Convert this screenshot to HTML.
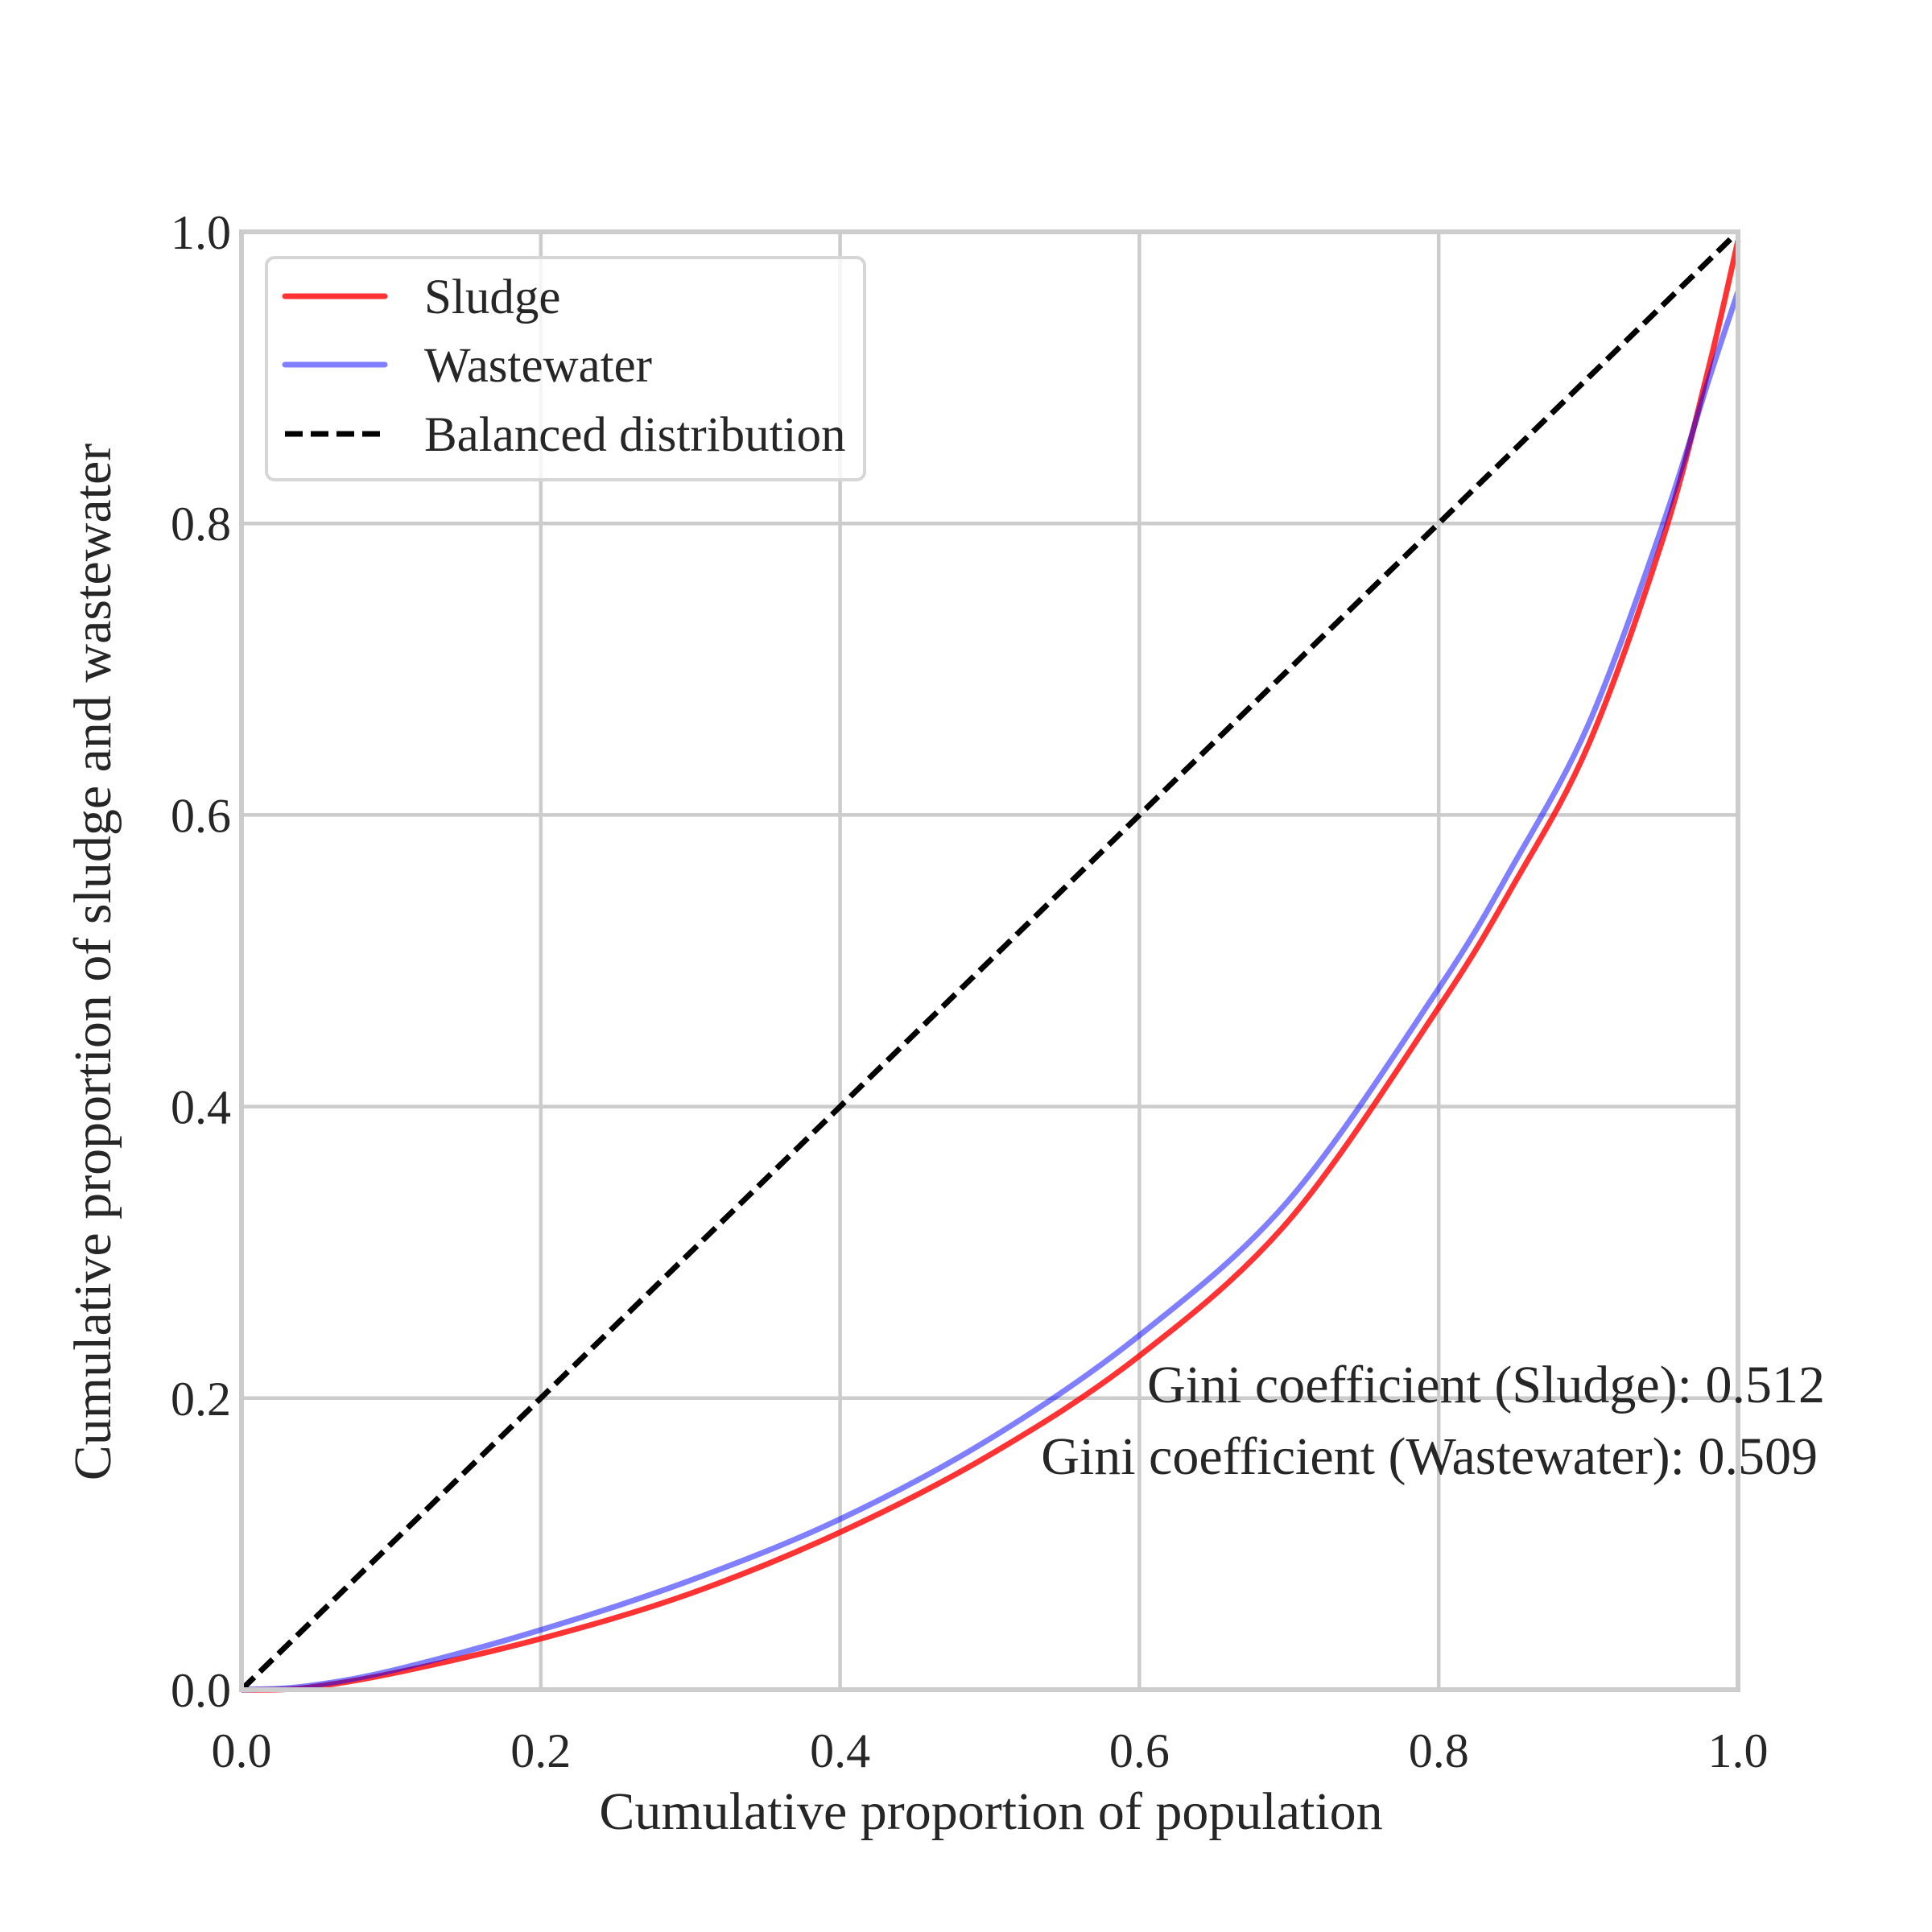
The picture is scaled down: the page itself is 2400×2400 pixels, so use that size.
<!DOCTYPE html>
<html><head><meta charset="utf-8"><style>
html,body{margin:0;padding:0;background:#fff;}
svg{display:block;font-family:"Liberation Serif","DejaVu Serif",serif;}
</style></head><body>
<svg id="chart" width="2400" height="2400" viewBox="0 0 2400 2400" xmlns="http://www.w3.org/2000/svg">
<rect x="0" y="0" width="2400" height="2400" fill="#fff"/>
<g id="grid"></g>
<g id="ticks"></g>
<g id="series"></g>
<rect x="300" y="288" width="1859" height="1811" fill="none" stroke="#cccccc" stroke-width="6"/>
<g id="legend">
  <rect x="331" y="320" width="743" height="276" rx="10" fill="#fff" fill-opacity="0.8" stroke="#d6d6d6" stroke-width="4"/>
  <line x1="354" y1="368" x2="478" y2="368" stroke="#ff0000" stroke-opacity="0.8" stroke-width="7" stroke-linecap="round"/>
  <text x="527" y="389" font-size="61" fill="#262626">Sludge</text>
  <line x1="354" y1="453" x2="478" y2="453" stroke="#0000ff" stroke-opacity="0.5" stroke-width="7" stroke-linecap="round"/>
  <text x="527" y="474" font-size="61" fill="#262626">Wastewater</text>
  <line x1="354" y1="539" x2="478" y2="539" stroke="#000" stroke-width="7" stroke-dasharray="22 10"/>
  <text x="527" y="560" font-size="61" fill="#262626">Balanced distribution</text>
</g>
<text x="2267" y="1742" font-size="66" text-anchor="end" fill="#262626">Gini coefficient (Sludge): 0.512</text>
<text x="2258" y="1831" font-size="66" text-anchor="end" fill="#262626">Gini coefficient (Wastewater): 0.509</text>
<text x="1231" y="2272" font-size="66" text-anchor="middle" fill="#262626">Cumulative proportion of population</text>
<text transform="translate(137,1195) rotate(-90)" font-size="66" text-anchor="middle" fill="#262626">Cumulative proportion of sludge and wastewater</text>
</svg>
<script>
const xTicks = [0.0, 0.2, 0.4, 0.6, 0.8, 1.0];
const yTicks = [0.0, 0.2, 0.4, 0.6, 0.8, 1.0];
const tickLabels = ["0.0", "0.2", "0.4", "0.6", "0.8", "1.0"];
const popShare = [0, 0.04, 0.1, 0.2, 0.3, 0.4, 0.5, 0.6, 0.7, 0.8, 0.85, 0.9, 0.95, 0.98, 1.0];
const sludge = [0, 0.001, 0.011, 0.035, 0.066, 0.108, 0.161, 0.229, 0.322, 0.468, 0.552, 0.648, 0.790, 0.905, 0.994];
const wastewater = [0, 0.002, 0.013, 0.041, 0.075, 0.117, 0.172, 0.243, 0.336, 0.481, 0.566, 0.662, 0.800, 0.897, 0.959];
const balancedX = [0, 1];
const balancedY = [0, 1];

const NS = "http://www.w3.org/2000/svg";
const L = 300, R = 2159, T = 288, B = 2099;
const sx = v => L + v * (R - L);
const sy = v => B - v * (B - T);
function mk(tag, attrs, parent) {
  const el = document.createElementNS(NS, tag);
  for (const k in attrs) el.setAttribute(k, attrs[k]);
  parent.appendChild(el);
  return el;
}
const grid = document.getElementById('grid');
const ticks = document.getElementById('ticks');
xTicks.forEach((v, i) => {
  const g = mk('line', {x1: sx(v), x2: sx(v), y1: T, y2: B, stroke: '#cccccc', 'stroke-width': 4.5}, grid);
  
  
  const t = mk('text', {x: sx(v), y: 2195, 'font-size': 60, 'text-anchor': 'middle', fill: '#262626'}, ticks);
  t.textContent = tickLabels[i];
  
  
});
yTicks.forEach((v, i) => {
  const g = mk('line', {x1: L, x2: R, y1: sy(v), y2: sy(v), stroke: '#cccccc', 'stroke-width': 4.5}, grid);
  
  
  const t = mk('text', {x: 287, y: sy(v) + 21, 'font-size': 60, 'text-anchor': 'end', fill: '#262626'}, ticks);
  t.textContent = tickLabels[i];
  
  
});
function smooth(xs, ys) {
  const p = xs.map((x, i) => [sx(x), sy(ys[i])]);
  let d = 'M' + p[0][0].toFixed(1) + ',' + p[0][1].toFixed(1);
  for (let i = 0; i < p.length - 1; i++) {
    const p0 = p[Math.max(0, i - 1)], p1 = p[i], p2 = p[i + 1], p3 = p[Math.min(p.length - 1, i + 2)];
    const c1 = [p1[0] + (p2[0] - p0[0]) / 6, p1[1] + (p2[1] - p0[1]) / 6];
    const c2 = [p2[0] - (p3[0] - p1[0]) / 6, p2[1] - (p3[1] - p1[1]) / 6];
    d += ' C' + c1[0].toFixed(1) + ',' + c1[1].toFixed(1) + ' ' + c2[0].toFixed(1) + ',' + c2[1].toFixed(1) + ' ' + p2[0].toFixed(1) + ',' + p2[1].toFixed(1);
  }
  return d;
}
const series = document.getElementById('series');
const s1 = mk('path', {d: smooth(popShare, sludge), fill: 'none', stroke: '#ff0000', 'stroke-opacity': 0.8, 'stroke-width': 7, 'stroke-linejoin': 'round'}, series);


const s2 = mk('path', {d: smooth(popShare, wastewater), fill: 'none', stroke: '#0000ff', 'stroke-opacity': 0.5, 'stroke-width': 7, 'stroke-linejoin': 'round'}, series);


const s3 = mk('polyline', {points: balancedX.map((x, i) => sx(x) + ',' + sy(balancedY[i])).join(' '), fill: 'none', stroke: '#000', 'stroke-width': 7, 'stroke-dasharray': '22 10'}, series);


</script>
</body></html>
